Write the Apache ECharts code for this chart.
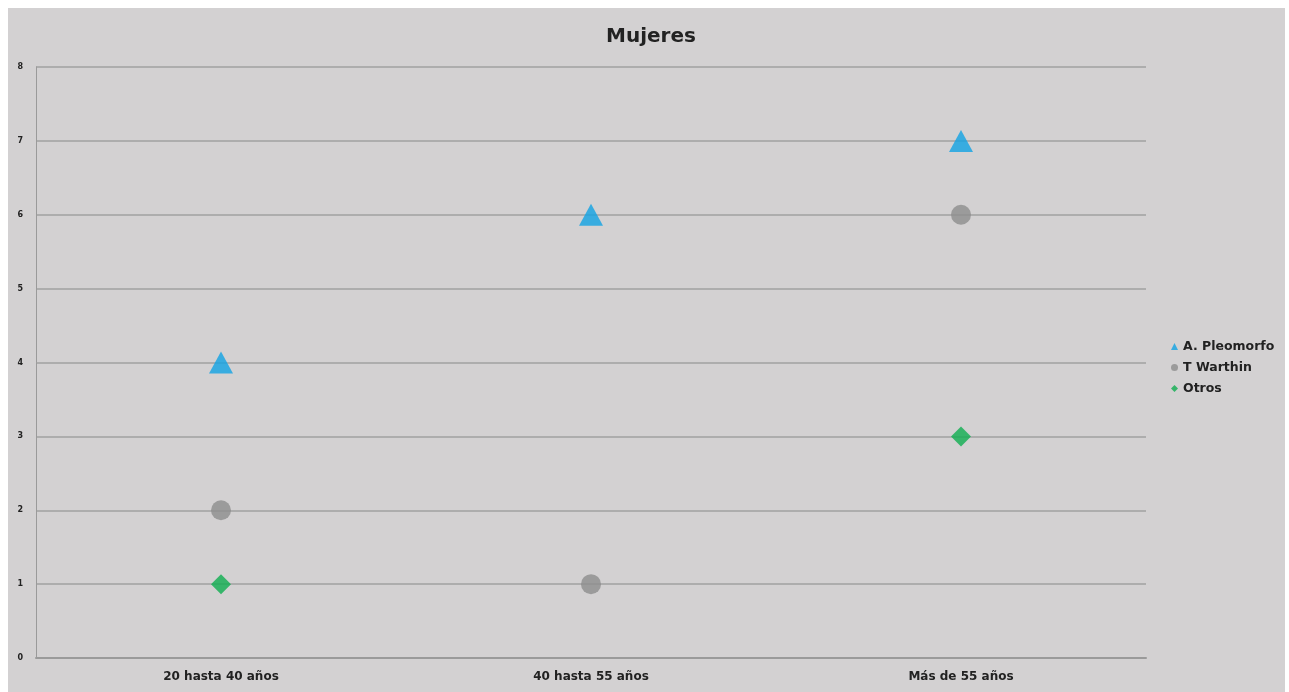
<!DOCTYPE html>
<html>
<head>
<meta charset="utf-8">
<script src="https://cdn.jsdelivr.net/npm/echarts@6/dist/echarts.min.js"></script>
<style>
  html, body { margin: 0; padding: 0; background: #ffffff; width: 1289px; height: 692px; overflow: hidden; }
  #panel { position: absolute; left: 8px; top: 8px; width: 1277px; height: 684px; background: #d3d1d2; }
  #chart { width: 100%; height: 100%; }
</style>
</head>
<body>
<div id="panel"><div id="chart"></div></div>
<script>
// Age groups on the category axis
const categories = ['20 hasta 40 años', '40 hasta 55 años', 'Más de 55 años'];
// Case counts per tumour type
const pleomorfo = [4, 6, 7];
const warthin = [2, 1, 6];
const otros = [1, null, 3];
const yTicks = [0, 1, 2, 3, 4, 5, 6, 7, 8];

const font = '"DejaVu Sans", sans-serif';
const chart = echarts.init(document.getElementById('chart'), null, { renderer: 'canvas' });

chart.setOption({
  backgroundColor: 'transparent',
  animation: false,
  title: {
    text: 'Mujeres',
    left: 593,
    top: 14,
    textStyle: { fontFamily: font, fontSize: 20, fontWeight: 'bold', color: '#222' }
  },
  legend: {
    orient: 'vertical',
    left: 1158,
    top: 327,
    itemWidth: 7,
    itemHeight: 7,
    itemGap: 8,
    textStyle: { fontFamily: font, fontSize: 12.5, fontWeight: 'bold', color: '#222' },
    data: [
      { name: 'A. Pleomorfo', icon: 'triangle' },
      { name: 'T Warthin', icon: 'circle' },
      { name: 'Otros', icon: 'diamond' }
    ]
  },
  grid: { left: 28, right: 139, top: 59, bottom: 34, containLabel: false },
  xAxis: {
    type: 'category',
    data: categories,
    boundaryGap: true,
    axisLine: { show: true, lineStyle: { color: '#9a9a9a', width: 2 } },
    axisTick: { show: false },
    axisLabel: { margin: 13, fontFamily: font, fontSize: 12, fontWeight: 'bold', color: '#222' },
    splitLine: { show: false }
  },
  yAxis: {
    type: 'value',
    min: yTicks[0],
    max: yTicks[yTicks.length - 1],
    interval: 1,
    axisLine: { show: true, lineStyle: { color: '#9a9a9a', width: 1 } },
    axisTick: { show: false },
    axisLabel: { margin: 13, fontFamily: font, fontSize: 8, fontWeight: 'bold', color: '#222' },
    splitLine: { show: true, lineStyle: { color: '#a0a0a0', width: 1.5 } }
  },
  series: [
    {
      name: 'A. Pleomorfo',
      type: 'scatter',
      symbol: 'triangle',
      symbolSize: [24, 22],
      itemStyle: { color: '#11a2e3' },
      data: pleomorfo
    },
    {
      name: 'T Warthin',
      type: 'scatter',
      symbol: 'circle',
      symbolSize: 20,
      itemStyle: { color: '#8d8d8d' },
      data: warthin
    },
    {
      name: 'Otros',
      type: 'scatter',
      symbol: 'diamond',
      symbolSize: 20,
      itemStyle: { color: '#0fae50' },
      data: otros
    }
  ]
});
</script>
</body>
</html>
